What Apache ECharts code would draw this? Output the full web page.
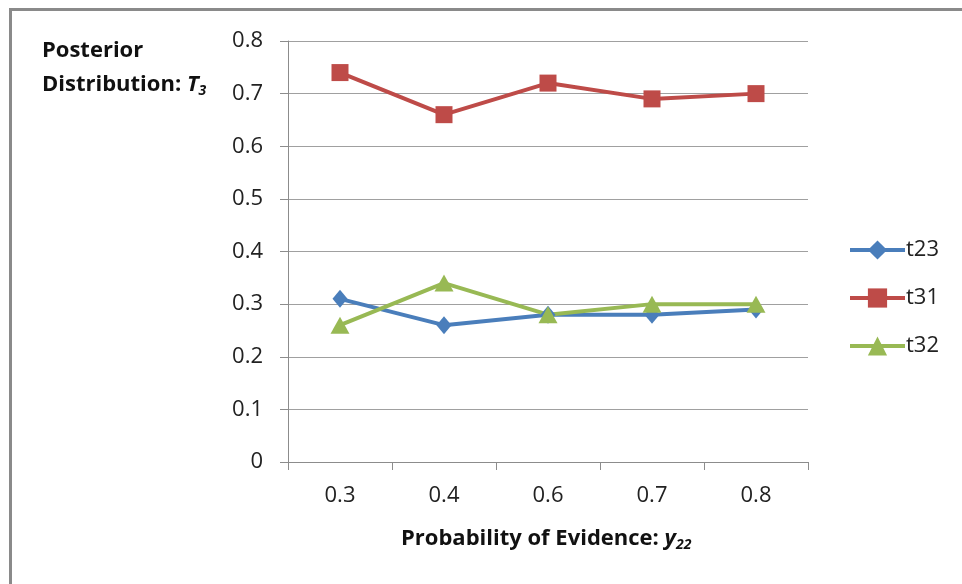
<!DOCTYPE html>
<html>
<head>
<meta charset="utf-8">
<script src="https://cdn.jsdelivr.net/npm/echarts@6/dist/echarts.min.js"></script>
<style>
  html, body { margin: 0; padding: 0; background: #fff; }
  #chart { width: 962px; height: 584px; }
</style>
</head>
<body>
<div id="chart"></div>
<script>
// Probability of evidence y22 on the x axis
const categories = ['0.3', '0.4', '0.6', '0.7', '0.8'];
// Posterior distribution of T3 per state
const t23 = [0.31, 0.26, 0.28, 0.28, 0.29];
const t31 = [0.74, 0.66, 0.72, 0.69, 0.70];
const t32 = [0.26, 0.34, 0.28, 0.30, 0.30];

const FONT = '"Open Sans", "Noto Sans", sans-serif';
const chart = echarts.init(document.getElementById('chart'), null, { renderer: 'canvas' });

function lineSeries(name, data, color, symbol, size) {
  return {
    name, type: 'line', data,
    symbol, symbolSize: size,
    lineStyle: { color, width: 4 },
    itemStyle: { color },
    emphasis: { disabled: true },
    animation: false
  };
}

chart.setOption({
  backgroundColor: '#fff',
  animation: false,
  grid: { left: 288, right: 154, top: 41, bottom: 122, containLabel: false },
  xAxis: {
    type: 'category',
    data: categories,
    boundaryGap: true,
    axisLine: { lineStyle: { color: '#8c8c8c', width: 1 } },
    axisTick: { show: true, length: 8, lineStyle: { color: '#8c8c8c' }, alignWithLabel: false },
    axisLabel: { color: '#222', fontSize: 22, fontFamily: FONT, margin: 23 },
    splitLine: { show: false }
  },
  yAxis: {
    type: 'value',
    min: 0, max: 0.8, interval: 0.1,
    axisLine: { show: true, lineStyle: { color: '#8c8c8c', width: 1 } },
    axisTick: { show: true, length: 8, lineStyle: { color: '#8c8c8c' } },
    axisLabel: {
      color: '#222', fontSize: 22, fontFamily: FONT, margin: 25,
      formatter: v => (Math.round(v * 10) / 10).toString()
    },
    splitLine: { show: true, lineStyle: { color: '#a0a0a0', width: 1 } }
  },
  legend: {
    orient: 'vertical',
    left: 848, top: 239,
    padding: 0,
    itemGap: 26,
    itemWidth: 55, itemHeight: 24,
    lineStyle: { width: 4 },
    textStyle: { color: '#222', fontSize: 22, fontFamily: FONT, padding: [0, 0, 0, -4] },
    data: ['t23', 't31', 't32']
  },
  graphic: [
    { type: 'rect', shape: { x: 9, y: 8, width: 3, height: 600 }, style: { fill: '#8a8a8a' } },
    { type: 'rect', shape: { x: 9, y: 8, width: 970, height: 3 }, style: { fill: '#8a8a8a' } },
    {
      type: 'text', left: 42, top: 40,
      style: {
        text: '{b|Posterior}\n{b|Distribution: }{i|T}{s|3}',
        rich: {
          b: { fontFamily: FONT, fontWeight: 'bold', fontSize: 22, fill: '#111', lineHeight: 34 },
          i: { fontFamily: FONT, fontWeight: 'bold', fontStyle: 'italic', fontSize: 22, fill: '#111', lineHeight: 34 },
          s: { fontFamily: FONT, fontWeight: 'bold', fontStyle: 'italic', fontSize: 14, fill: '#111', padding: [12, 0, 0, 0], lineHeight: 34 }
        }
      }
    },
    {
      type: 'text', left: 401, top: 528,
      style: {
        text: '{b|Probability of Evidence: }{i|y}{s|22}',
        rich: {
          b: { fontFamily: FONT, fontWeight: 'bold', fontSize: 22, fill: '#111' },
          i: { fontFamily: FONT, fontWeight: 'bold', fontStyle: 'italic', fontSize: 22, fill: '#111' },
          s: { fontFamily: FONT, fontWeight: 'bold', fontStyle: 'italic', fontSize: 14, fill: '#111', padding: [12, 0, 0, 0] }
        }
      }
    }
  ],
  series: [
    lineSeries('t23', t23, '#4a7ebb', 'diamond', [15, 18]),
    lineSeries('t31', t31, '#be4b48', 'rect', 17),
    lineSeries('t32', t32, '#98b954', 'triangle', [19, 17])
  ]
});
</script>
</body>
</html>
